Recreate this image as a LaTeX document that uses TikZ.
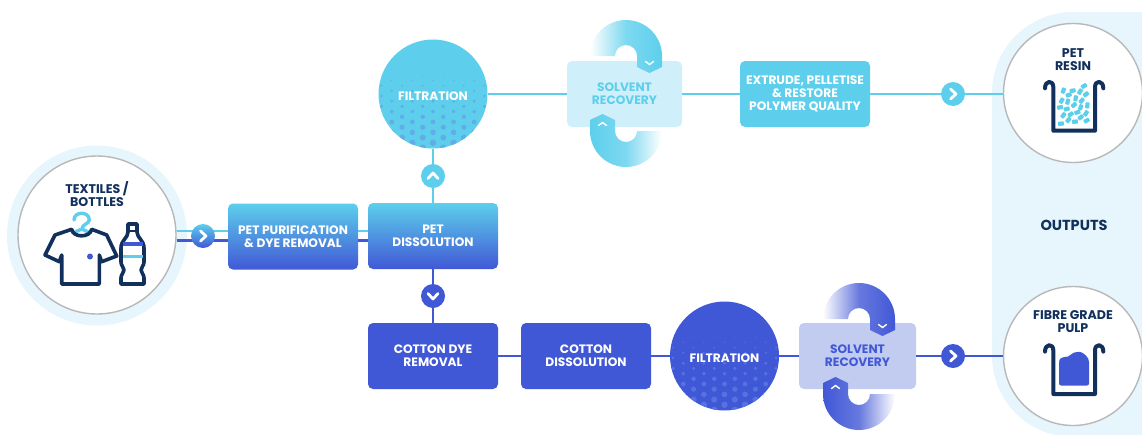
\documentclass[tikz,border=0pt]{standalone}
\usepackage{fontspec}
\setmainfont{Poppins}
\definecolor{petblue}{HTML}{5DCFEC}
\definecolor{cotblue}{HTML}{4158D6}
\definecolor{navy}{HTML}{12305C}
\definecolor{panel}{HTML}{E6F6FC}
\definecolor{petpale}{HTML}{CFF0FA}
\definecolor{cotpale}{HTML}{C2CCF0}
\definecolor{petdot}{HTML}{63ACE8}
\definecolor{cotdot}{HTML}{5274E0}
\tikzset{
  petline/.style={draw=petblue,line width=2.4pt},
  cotline/.style={draw=cotblue,line width=2.4pt},
  procbox/.style={rectangle,rounded corners=5pt,minimum width=130pt,minimum height=66pt,inner sep=0pt,align=center,text=white,font=\bfseries\fontsize{12.2}{12.8}\selectfont},
  ringnode/.style={circle,fill=white,draw=black!28,line width=1.4pt,minimum size=#1,inner sep=0pt},
  inktext/.style={align=center,text=navy,font=\bfseries\fontsize{12.6}{13}\selectfont},
  filtnode/.style={circle,minimum size=109pt,inner sep=0pt},
  badge/.style={circle,minimum size=24pt,inner sep=0pt},
  chevline/.style={draw=white,line width=2.8pt,line cap=round,line join=round},
  bucketline/.style={draw=navy,line width=4pt,line cap=round,line join=round},
}
% chevron on a badge: name, angle
\newcommand{\chev}[2]{\draw[chevline,shift={(#1)},rotate=#2] (-2.5,-5) -- (3,0) -- (-2.5,5);}
% solvent loop: cx, cy, side (1 above, -1 below), colour, shading keys
\newcommand{\recloop}[5]{
\begin{scope}[shift={(#1,#2)},xscale=#3,yscale=#3]
\shade[#5] (-36,0) arc (180:360:36) -- (36,11) -- (23.5,17) -- (11,11) -- (11,0) arc (360:180:11) -- cycle;
\draw[white,line width=1.4pt,line cap=round] (19.5,5.5) -- (23.5,8.5) -- (27.5,5.5);
\end{scope}}
% dots in a filtration circle: node, colour
\newcommand{\halftone}[2]{
\begin{scope}
\clip (#1) circle (54.5);
\foreach \i in {0,...,16} \foreach \j in {-3,...,3} {
  \pgfmathsetmacro{\dx}{20.6*\j+10.3*mod(\i,2)}
  \pgfmathsetmacro{\dy}{-24+5.2*\i}
  \pgfmathsetmacro{\rr}{0.3+0.04*(\dy+24)}
  \fill[#2,shift={(#1)}] (\dx,\dy) circle (\rr);
}
\end{scope}}
% tank
\newcommand{\bucket}[1]{\draw[bucketline,shift={(0,#1)}] (1045,88.3) .. controls (1045,80) and (1053.3,80) .. (1053.3,87) -- (1053.3,130.7) -- (1095,130.7) -- (1095,87) .. controls (1095,80) and (1103.3,80) .. (1103.3,88.3);}
\begin{document}
\begin{tikzpicture}[x=1pt,y=-1pt]
\useasboundingbox (0,0) rectangle (1142,434);
\clip (0,0) rectangle (1142,434);
\fill[panel,rounded corners=81pt] (992,12) rectangle (1300,437);
\fill[panel] (97,235.5) circle (90);
\draw (97,235) node[ringnode=158pt] (textiles) {};
\draw (1073,93) node[ringnode=139pt] (resin) {};
\draw (1073,356) node[ringnode=139pt] (pulp) {};
% process boxes
\draw (293,236.5) node[procbox,top color=petblue,bottom color=cotblue] (purif) {PET PURIFICATION\\\& DYE REMOVAL};
\draw (433,236) node[procbox,top color=petblue,bottom color=cotblue] (dissol) {PET\\DISSOLUTION};
\draw (624.5,94) node[procbox,fill=petpale,text=petblue,minimum width=115pt] (solvA) {SOLVENT\\RECOVERY};
\draw (805,94) node[procbox,fill=petblue] (extrude) {EXTRUDE, PELLETISE\\\& RESTORE\\POLYMER QUALITY};
\draw (433,356) node[procbox,fill=cotblue] (cotdye) {COTTON DYE\\REMOVAL};
\draw (586,356) node[procbox,fill=cotblue] (cotdiss) {COTTON\\DISSOLUTION};
\draw (857.5,356) node[procbox,fill=cotpale,text=cotblue,minimum width=117pt] (solvB) {SOLVENT\\RECOVERY};
% filtration
\draw (433,94) node[filtnode,fill=petblue] (filtA) {};
\draw (724.5,356) node[filtnode,fill=cotblue] (filtB) {};
\halftone{filtA}{petdot}
\halftone{filtB}{cotdot}
\draw (433,96.5) node[text=white,font=\bfseries\fontsize{12.2}{12}\selectfont] (filtAtext) {FILTRATION};
\draw (724.5,358) node[text=white,font=\bfseries\fontsize{12.2}{12}\selectfont] (filtBtext) {FILTRATION};
% connectors
\draw[petline] (textiles.3) -- (textiles.3 -| purif.west);
\draw[cotline] (textiles.-4.5) -- (textiles.-4.5 -| purif.west);
\draw[petline] (purif.east |- textiles.3) -- (dissol.west |- textiles.3);
\draw[cotline] (purif.east |- textiles.-4.5) -- (dissol.west |- textiles.-4.5);
\draw[petline] (dissol.north) -- (filtA.south);
\draw[petline] (filtA.east) -- (solvA.west);
\draw[petline] (solvA.east) -- (extrude.west);
\draw[petline] (extrude.east) -- (extrude.east -| resin.west);
\draw[cotline] (dissol.south) -- (cotdye.north);
\draw[cotline] (cotdye.east) -- (cotdiss.west);
\draw[cotline] (cotdiss.east) -- (filtB.west);
\draw[cotline] (filtB.east) -- (solvB.west);
\draw[cotline] (solvB.east) -- (pulp.west);
% badges
\draw (203,236) node[badge,top color=petblue,bottom color=cotblue] (bdgIn) {};
\draw (433,176) node[badge,fill=petblue] (bdgUp) {};
\draw (433,296) node[badge,fill=cotblue] (bdgDown) {};
\draw (953,94) node[badge,fill=petblue] (bdgResin) {};
\draw (953,356) node[badge,fill=cotblue] (bdgPulp) {};
\chev{bdgIn}{0}
\chev{bdgUp}{90}
\chev{bdgDown}{-90}
\chev{bdgResin}{0}
\chev{bdgPulp}{0}
% solvent loops
\recloop{626}{56}{1}{petblue}{left color=white,right color=petblue,middle color=petblue!80}
\recloop{626}{131}{-1}{petblue}{left color=petblue,right color=white,middle color=petblue!80}
\recloop{859}{319}{1}{cotblue}{left color=white,right color=cotblue,middle color=cotblue!80}
\recloop{859}{394}{-1}{cotblue}{left color=cotblue,right color=white,middle color=cotblue!80}
% labels in the rings
\draw (97,194) node[inktext] (textilesTxt) {TEXTILES /\\BOTTLES};
\draw (1073,59.5) node[inktext] (resinTxt) {PET\\RESIN};
\draw (1073,321.5) node[inktext] (pulpTxt) {FIBRE GRADE\\PULP};
\draw (1074,225) node[inktext,font=\bfseries\fontsize{14.5}{15}\selectfont] (outputs) {OUTPUTS};
% shirt
\draw[petblue,line width=3.4pt,line cap=round,line join=round] (74,220) .. controls (74,211) and (89.3,211) .. (89.3,220) .. controls (89.3,224) and (82,224) .. (82,229) -- (75,232) (82,229) -- (88,232);
\draw[navy,line width=3.6pt,line join=round] (71.7,229.3) .. controls (73,238) and (90,238) .. (91.7,229.3) -- (106.7,235) -- (116.7,256) -- (101.7,261.7) -- (99.3,255) -- (99.3,284) -- (61.7,284) -- (61.7,255) -- (59.3,261.7) -- (45,255) -- (55,235) -- cycle;
\fill[cotblue] (90,256.5) circle (3);
% bottle
\draw[navy,line width=3.6pt,line join=round] (128,224) -- (137,224) -- (137,232) .. controls (137,238) and (144,240) .. (144,248) -- (144,262) .. controls (144,266) and (141,267) .. (141,270) .. controls (141,273) and (144,274) .. (144,278) -- (144,284) -- (121,284) -- (121,278) .. controls (121,274) and (124,273) .. (124,270) .. controls (124,267) and (121,266) .. (121,262) -- (121,248) .. controls (121,240) and (128,238) .. (128,232) -- cycle;
\draw[navy,line width=2.4pt] (128,231) -- (137,231);
\draw[cotblue,line width=3.4pt] (122.5,244) -- (142.5,244);
\draw[petblue,line width=3.4pt] (122.5,256.5) -- (142.5,256.5);
% tanks
\bucket{0}
\bucket{263.3}
\foreach \x/\y/\r in {310/272/70,338/272/10,372/258/30,360/275/60,378/283/40,326/285/20,305/302/60,347/295/80,365/302/50,382/316/85,323/305/75,300/322/10,320/327/15,342/315/40,362/322/70,310/346/55,332/343/35,352/337/20,378/340/60,325/360/50,362/352/40,345/365/5,380/362/30,303/371/5}
  \fill[petblue,rounded corners=.8pt,shift={({\x/3+960},{\y/3})},rotate=\r] (-3,-2.1) rectangle (3,2.1);
\fill[cotblue,rounded corners=2pt] (1059,385.5) -- (1059,362) .. controls (1060,357) and (1066,357) .. (1070,356) .. controls (1073,352) and (1080,351) .. (1084,354) .. controls (1088,357) and (1089,360) .. (1089,364) -- (1089,385.5) -- cycle;
\end{tikzpicture}
\end{document}
